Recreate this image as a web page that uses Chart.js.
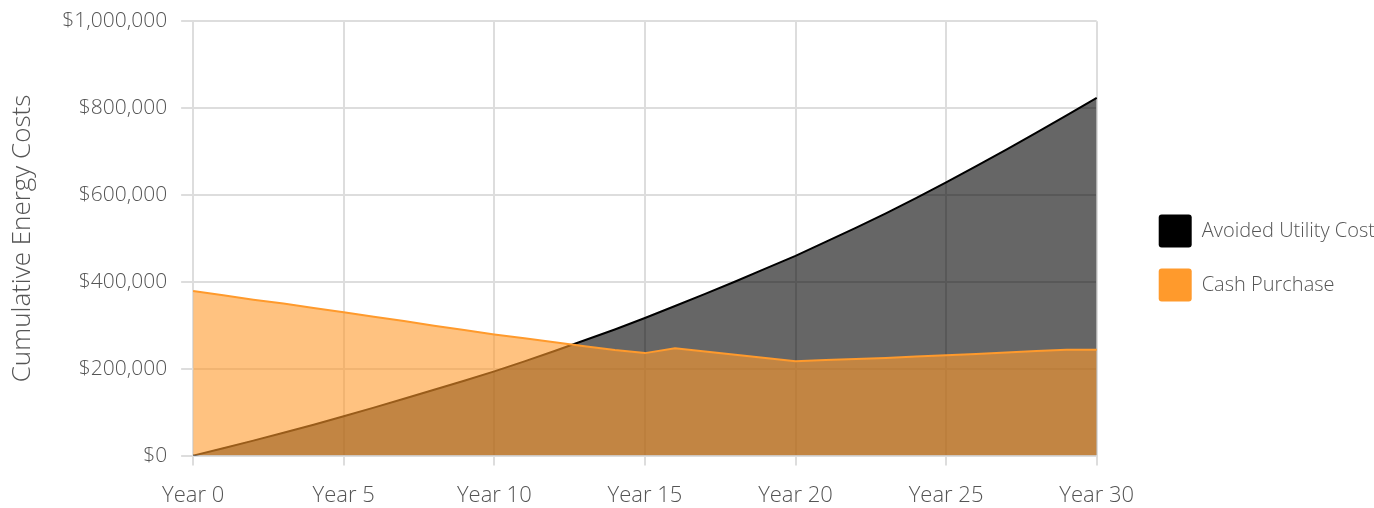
<!DOCTYPE html>
<html>
<head>
<meta charset="utf-8">
<script src="https://cdn.jsdelivr.net/npm/chart.js@4/dist/chart.umd.min.js"></script>
<style>
  html, body { margin: 0; padding: 0; background: #fff; }
  #wrap { width: 1374px; height: 508px; position: relative; }
</style>
</head>
<body>
<div id="wrap"><canvas id="c"></canvas></div>
<script>
// ---- data ----
const years = [0,1,2,3,4,5,6,7,8,9,10,11,12,13,14,15,16,17,18,19,20,21,22,23,24,25,26,27,28,29,30];
const categories = years.map(y => 'Year ' + y);
const avoidedUtilityCost = [
  0, 17000, 34500, 52500, 71000, 90500, 110500, 131000, 151500, 172500,
  194000, 217000, 241000, 265500, 290500, 317000, 344500, 372500, 401000, 430500,
  460000, 492000, 524500, 558000, 593000, 629000, 666500, 704500, 743500, 783500, 824000
];
const cashPurchase = [
  379000, 369000, 359000, 350000, 340000, 330000, 320000, 310000, 299000, 289000,
  279000, 270000, 261000, 252000, 243000, 236000, 247000, 239500, 232000, 224500,
  217000, 220000, 222500, 225000, 228000, 231000, 234000, 237500, 241000, 244000, 244000
];
const seriesNames = ['Avoided Utility Cost', 'Cash Purchase'];
const yTicks = [0, 200000, 400000, 600000, 800000, 1000000];
const xLabelEvery = 5;
const yTitle = 'Cumulative Energy Costs';

// ---- styles ----
const FONT = "'Open Sans', sans-serif";
const TEXT = '#555555';
const GRID = '#dddddd';
const ORANGE = '#ff9a2c';

Chart.defaults.font.family = FONT;
Chart.defaults.font.weight = 300;
Chart.defaults.color = TEXT;

new Chart(document.getElementById('c'), {
  type: 'line',
  data: {
    labels: categories,
    datasets: [
      {
        label: seriesNames[0],
        data: avoidedUtilityCost,
        borderColor: '#000000',
        backgroundColor: 'rgba(0,0,0,0.6)',
        borderWidth: 2,
        fill: 'origin',
        pointRadius: 0,
        tension: 0,
        order: 1
      },
      {
        label: seriesNames[1],
        data: cashPurchase,
        borderColor: ORANGE,
        backgroundColor: 'rgba(255,154,44,0.6)',
        borderWidth: 2,
        fill: 'origin',
        pointRadius: 0,
        tension: 0,
        order: 0
      }
    ]
  },
  options: {
    responsive: true,
    maintainAspectRatio: false,
    animation: false,
    layout: { padding: { top: -10, right: -11, bottom: -18, left: 0 } },
    plugins: {
      tooltip: { enabled: false },
      legend: {
        position: 'right',
        maxWidth: 400,
        labels: {
          boxWidth: 33,
          boxHeight: 33,
          padding: 21,
          useBorderRadius: true,
          borderRadius: 3,
          color: TEXT,
          font: { size: 20, family: FONT, weight: 300 },
          sort: (a, b) => a.datasetIndex - b.datasetIndex,
          generateLabels: (chart) => {
            const items = Chart.defaults.plugins.legend.labels.generateLabels(chart);
            items.forEach(it => {
              const ds = chart.data.datasets[it.datasetIndex];
              it.fillStyle = ds.borderColor;
              it.strokeStyle = ds.borderColor;
              it.lineWidth = 0;
            });
            return items;
          }
        }
      }
    },
    scales: {
      x: {
        type: 'category',
        offset: false,
        grid: { color: GRID, lineWidth: 2, tickLength: 10, drawOnChartArea: true },
        border: { color: GRID, width: 2 },
        ticks: {
          autoSkip: false,
          maxRotation: 0,
          padding: 17,
          color: TEXT,
          font: { size: 22, family: FONT, weight: 300 },
          callback: function (value, index) {
            return index % xLabelEvery === 0 ? categories[index] : null;
          }
        }
      },
      y: {
        min: yTicks[0],
        max: yTicks[yTicks.length - 1],
        grid: { color: GRID, lineWidth: 2, tickLength: 12 },
        border: { color: GRID, width: 2 },
        afterBuildTicks: (scale) => { scale.ticks = yTicks.map(v => ({ value: v })); },
        ticks: {
          padding: 14,
          color: TEXT,
          font: { size: 21, family: FONT, weight: 300, lineHeight: 0.7 },
          callback: (v) => '$' + Number(v).toLocaleString('en-US')
        },
        title: {
          display: true,
          text: yTitle,
          color: TEXT,
          font: { size: 26, family: FONT, weight: 300 },
          padding: { top: 7, bottom: 10 }
        }
      },
      yRightSpacer: {
        position: 'right',
        display: true,
        grid: { display: false, drawTicks: false },
        border: { display: false },
        ticks: { display: false },
        afterFit: (scale) => { scale.width = 41; }
      }
    }
  }
});
</script>
</body>
</html>
